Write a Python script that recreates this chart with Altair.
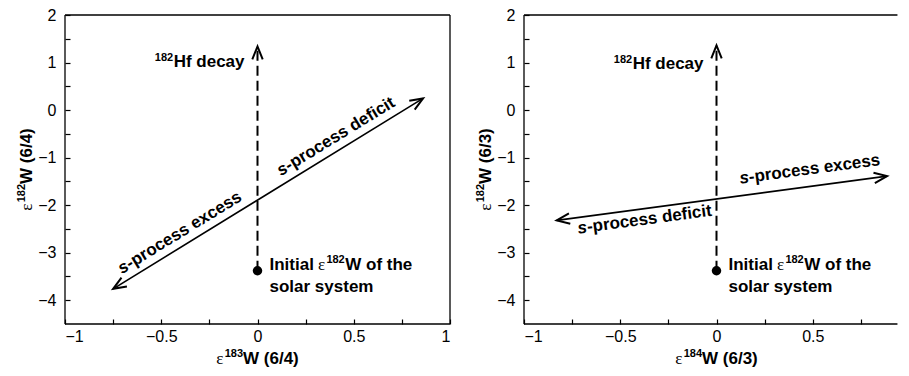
import math
import altair as alt
import pandas as pd

# ---------------- data ----------------
x_ticks = [-1, -0.75, -0.5, -0.25, 0, 0.25, 0.5, 0.75, 1]
y_ticks = [-4, -3.5, -3, -2.5, -2, -1.5, -1, -0.5, 0, 0.5, 1, 1.5, 2]
# right panel is cut by the figure edge just short of x = 1
x_domains = [[-1, 1], [-1, 0.94]]
y_domain = [-4.5, 2]

# axis titles: (superscript mass number, rest)
x_title_sup = ["183", "184"]
x_title_rest = ["W (6/4)", "W (6/3)"]
y_title_sup = ["182", "182"]
y_title_rest = ["W (6/4)", "W (6/3)"]

# initial solar-system point and 182Hf decay arrow
initial_x = [0.0, 0.0]
initial_y = [-3.38, -3.38]
decay_top_y = [1.34, 1.36]

# s-process mixing line (two-headed arrow)
s_start_x = [-0.75, -0.83]
s_start_y = [-3.76, -2.32]
s_end_x = [0.86, 0.886]
s_end_y = [0.245, -1.39]

# label anchors along the s-process line
low_label_x = [-0.64, -0.68]
low_label_y = [-3.49, -2.239]
low_label_text = ["-process excess", "-process deficit"]
high_label_x = [0.186, 0.18]
high_label_y = [-1.43, -1.773]
high_label_text = ["-process deficit", "-process excess"]
hf_label_y = [0.9, 0.86]

# ---------------- styling ----------------
PX_PER_X = 192.5
H = 309
FONT = "Liberation Sans"
SERIF = "Liberation Serif"
FS = 17          # annotation font size
TFS = 17         # axis title font size
SUP = 11         # superscript font size
ARROW = "M -0.4 1 L 0 0 L 0.4 1"

# Arial / Liberation Sans Bold advance widths (em)
BOLD_W = {"H": .722, "f": .333, " ": .278, "d": .611, "e": .556, "c": .556,
          "a": .556, "y": .556, "I": .278, "n": .611, "i": .278, "t": .333,
          "l": .278, "W": .944, "o": .611, "h": .611, "(": .333, ")": .333,
          "/": .278}
EPS_W = 0.44


def bw(s, size):
    return sum(BOLD_W.get(c, .556) for c in s) * size


def panel(i):
    xd = x_domains[i]
    W = PX_PER_X * (xd[1] - xd[0])
    sx = PX_PER_X
    sy = H / (y_domain[1] - y_domain[0])
    ticks_here = [t for t in x_ticks if xd[0] <= t <= xd[1]]

    X = alt.X("x:Q",
              scale=alt.Scale(domain=xd, nice=False, zero=False),
              axis=alt.Axis(title=None, values=ticks_here, format="~g",
                            labelExpr="datum.value % 0.5 === 0 ? datum.label : ''",
                            labelPadding=4))
    Y = alt.Y("y:Q",
              scale=alt.Scale(domain=y_domain, nice=False, zero=False),
              axis=alt.Axis(title=None, values=y_ticks, format="~g",
                            labelExpr="datum.value % 1 === 0 ? datum.label : ''",
                            labelPadding=9))

    def ang_dir(dx, dy):
        return math.degrees(math.atan2(dx * sx, dy * sy)) % 360

    dxs = s_end_x[i] - s_start_x[i]
    dys = s_end_y[i] - s_start_y[i]
    text_angle = (-math.degrees(math.atan2(dys * sy, dxs * sx))) % 360
    head_angle = ang_dir(dxs, dys)

    layers = []

    # frame (left panel closed box, right panel cut on the right)
    h_df = pd.DataFrame({"x": [xd[0], xd[0]], "x2": [xd[1], xd[1]],
                         "y": [y_domain[0], y_domain[1]]})
    layers.append(alt.Chart(h_df).mark_rule(color="black", strokeWidth=1.3)
                  .encode(x=X, x2=alt.X2("x2:Q"), y=Y))
    v_x = [xd[0], xd[1]] if i == 0 else [xd[0]]
    v_df = pd.DataFrame({"x": v_x, "y": [y_domain[0]] * len(v_x),
                         "y2": [y_domain[1]] * len(v_x)})
    layers.append(alt.Chart(v_df).mark_rule(color="black", strokeWidth=1.3)
                  .encode(x=X, y=Y, y2=alt.Y2("y2:Q")))

    # dashed 182Hf decay line
    dash_df = pd.DataFrame({"x": [initial_x[i], initial_x[i]],
                            "y": [initial_y[i], decay_top_y[i]],
                            "o": [0, 1]})
    layers.append(alt.Chart(dash_df).mark_line(color="black", strokeWidth=2,
                                               strokeDash=[10, 5])
                  .encode(x=X, y=Y, order="o:Q"))

    # s-process line
    s_df = pd.DataFrame({"x": [s_start_x[i], s_end_x[i]],
                         "y": [s_start_y[i], s_end_y[i]],
                         "o": [0, 1]})
    layers.append(alt.Chart(s_df).mark_line(color="black", strokeWidth=1.6)
                  .encode(x=X, y=Y, order="o:Q"))

    # arrow heads
    head_df = pd.DataFrame({
        "x": [s_end_x[i], s_start_x[i], initial_x[i]],
        "y": [s_end_y[i], s_start_y[i], decay_top_y[i]],
        "a": [head_angle, (head_angle + 180) % 360, 0.0],
    })
    layers.append(alt.Chart(head_df).mark_point(shape=ARROW, size=676, filled=False,
                                                color="black", strokeWidth=2,
                                                opacity=1)
                  .encode(x=X, y=Y, angle=alt.Angle("a:Q", scale=None)))

    # initial point
    dot_df = pd.DataFrame({"x": [initial_x[i]], "y": [initial_y[i]]})
    layers.append(alt.Chart(dot_df).mark_circle(size=90, color="black", opacity=1)
                  .encode(x=X, y=Y))

    def txt(x, y, text, **props):
        base = dict(font=FONT, fontSize=FS, fontWeight="bold", color="black")
        base.update(props)
        df = pd.DataFrame({"x": [x], "y": [y], "t": [text]})
        return alt.Chart(df).mark_text(**base).encode(x=X, y=Y, text="t:N")

    def ptxt(px, py, text, **props):
        base = dict(font=FONT, fontSize=TFS, fontWeight="bold", color="black",
                    align="left", baseline="alphabetic")
        base.update(props)
        df = pd.DataFrame({"t": [text]})
        return alt.Chart(df).mark_text(**base).encode(
            x=alt.value(px), y=alt.value(py), text="t:N")

    # 182Hf decay label
    hf_w = bw("Hf decay", FS)
    layers.append(txt(initial_x[i], hf_label_y[i], "Hf decay", align="right",
                      baseline="alphabetic", dx=-13))
    layers.append(txt(initial_x[i], hf_label_y[i], "182", align="right",
                      baseline="alphabetic", dx=-13 - hf_w - 0.5, dy=-6,
                      fontSize=SUP))

    # Initial e182W of the solar system
    d0 = 12
    d_eps = d0 + bw("Initial", FS) + 4
    d_sup = d_eps + EPS_W * FS + 1
    d_w = d_sup + bw("182", SUP) + 0.5
    layers.append(txt(initial_x[i], initial_y[i], "Initial", align="left",
                      baseline="alphabetic", dx=d0, dy=-1))
    layers.append(txt(initial_x[i], initial_y[i], "ε", align="left",
                      baseline="alphabetic", dx=d_eps, dy=-1, font=SERIF,
                      fontWeight="normal", fontSize=FS))
    layers.append(txt(initial_x[i], initial_y[i], "182", align="left",
                      baseline="alphabetic", dx=d_sup, dy=-8, fontSize=SUP))
    layers.append(txt(initial_x[i], initial_y[i], "W of the", align="left",
                      baseline="alphabetic", dx=d_w, dy=-1))
    layers.append(txt(initial_x[i], initial_y[i], "solar system", align="left",
                      baseline="alphabetic", dx=d0, dy=21))

    # s-process labels
    low_above = (i == 0)
    low_dy = -8 if low_above else 3
    low_base = "alphabetic" if low_above else "top"
    layers.append(txt(low_label_x[i], low_label_y[i], "s", align="right",
                      baseline=low_base, dy=low_dy, angle=text_angle,
                      fontStyle="italic"))
    layers.append(txt(low_label_x[i], low_label_y[i], low_label_text[i], align="left",
                      baseline=low_base, dy=low_dy, angle=text_angle))
    high_dy = -8 if i == 0 else -12
    layers.append(txt(high_label_x[i], high_label_y[i], "s", align="right",
                      baseline="alphabetic", dy=high_dy, angle=text_angle,
                      fontStyle="italic"))
    layers.append(txt(high_label_x[i], high_label_y[i], high_label_text[i], align="left",
                      baseline="alphabetic", dy=high_dy, angle=text_angle))

    # x-axis title: eps + superscript + rest, centred under the full-width plot
    full_w = PX_PER_X * 2
    eps_w = EPS_W * TFS
    tot = eps_w + 1 + bw(x_title_sup[i], SUP) + bw(x_title_rest[i], TFS)
    x0 = full_w / 2 - tot / 2
    ty = H + 40
    layers.append(ptxt(x0, ty, "ε", font=SERIF, fontWeight="normal"))
    layers.append(ptxt(x0 + eps_w + 1, ty - 7, x_title_sup[i], fontSize=SUP))
    layers.append(ptxt(x0 + eps_w + 1 + bw(x_title_sup[i], SUP), ty, x_title_rest[i]))

    # y-axis title (rotated, reading upwards)
    tot = eps_w + 1 + bw(y_title_sup[i], SUP) + bw(y_title_rest[i], TFS)
    bx = -33
    y0 = H / 2 + tot / 2
    layers.append(ptxt(bx, y0, "ε", font=SERIF, fontWeight="normal", angle=270))
    layers.append(ptxt(bx, y0, y_title_sup[i], fontSize=SUP, angle=270,
                       dx=eps_w + 1, dy=-7))
    layers.append(ptxt(bx, y0, y_title_rest[i], angle=270,
                       dx=eps_w + 1 + bw(y_title_sup[i], SUP)))

    return alt.layer(*layers).properties(width=W, height=H)


chart = (
    alt.hconcat(panel(0), panel(1), spacing=24)
    .properties(padding={"left": 8, "top": -1, "right": 0, "bottom": 0})
    .configure_view(stroke=None)
    .configure_axis(
        offset=-5, domain=False, grid=False,
        ticks=True, tickSize=5, tickColor="black", tickWidth=1.2,
        labelFont=FONT, labelFontSize=16, labelColor="black", labelOverlap=False,
    )
)

chart.save("out.html", embed_options={"renderer": "svg", "actions": False})
